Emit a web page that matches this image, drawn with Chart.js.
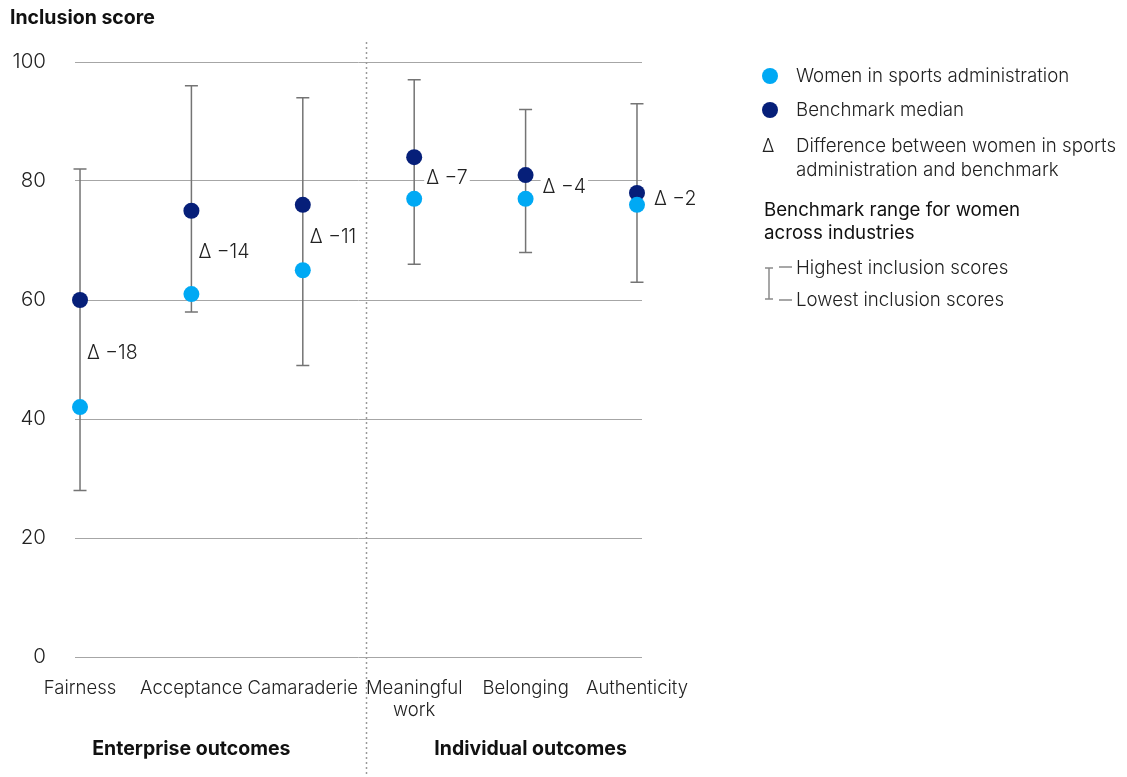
<!DOCTYPE html>
<html>
<head>
<meta charset="utf-8">
<script src="https://cdn.jsdelivr.net/npm/chart.js@4.4.1/dist/chart.umd.min.js"></script>
<style>
  body { margin: 0; background: #fff; font-family: Inter, "Liberation Sans", Arial, sans-serif; color: #222; }
  #wrap { position: relative; width: 1127px; height: 777px; overflow: hidden; }
  #chart { position: absolute; left: 0; top: 0; }
  .abs { position: absolute; white-space: nowrap; }
  .title { left: 10px; top: 5px; font-size: 19.5px; font-weight: 700; color: #111; }
  .dot { width: 16px; height: 16px; border-radius: 50%; }
  .lg { font-size: 18.7px; line-height: 24px; color: #222; font-weight: 300; }
</style>
</head>
<body>
<div id="wrap">
  <canvas id="chart" width="1127" height="777"></canvas>
  <div class="abs title">Inclusion score</div>

  <div class="abs dot" style="left:762px;top:68px;background:#00a9f4"></div>
  <div class="abs lg" style="left:796px;top:64px">Women in sports administration</div>
  <div class="abs dot" style="left:762px;top:102px;background:#061f79"></div>
  <div class="abs lg" style="left:796px;top:98px">Benchmark median</div>
  <div class="abs lg" style="left:762px;top:134px">Δ</div>
  <div class="abs lg" style="left:796px;top:134px">Difference between women in sports<br>administration and benchmark</div>
  <div class="abs lg" style="left:764px;top:198px;line-height:23px;color:#111;font-weight:400">Benchmark range for women<br>across industries</div>
  <svg class="abs" style="left:760px;top:260px" width="40" height="46">
    <g stroke="#8a8a8a" stroke-width="1.5" fill="none">
      <line x1="9" y1="8" x2="9" y2="39"/>
      <line x1="5" y1="8" x2="13" y2="8"/>
      <line x1="5" y1="39" x2="13" y2="39"/>
      <line x1="19" y1="7" x2="32" y2="7"/>
      <line x1="19" y1="40" x2="32" y2="40"/>
    </g>
  </svg>
  <div class="abs lg" style="left:796px;top:256px">Highest inclusion scores</div>
  <div class="abs lg" style="left:796px;top:288px">Lowest inclusion scores</div>
</div>

<script>
const categories = [["Fairness"], ["Acceptance"], ["Camaraderie"], ["Meaningful", "work"], ["Belonging"], ["Authenticity"]];
const womenScores = [42, 61, 65, 77, 77, 76];
const benchmarkMedian = [60, 75, 76, 84, 81, 78];
const rangeLow = [28, 58, 49, 66, 68, 63];
const rangeHigh = [82, 96, 94, 97, 92, 93];
const yTicks = [0, 20, 40, 60, 80, 100];
const groupNames = ["Enterprise outcomes", "Individual outcomes"];
const groupMembers = [[0, 1, 2], [3, 4, 5]];
const dividerAt = 2.57;

const FONT = 'Inter, "Liberation Sans", Arial, sans-serif';

// benchmark range whiskers, drawn under the dots
const rangePlugin = {
  id: "rangeBars",
  beforeDatasetsDraw(chart) {
    let ctx = chart.ctx;
    let x = chart.scales.x, y = chart.scales.y;
    ctx.save();
    ctx.strokeStyle = "#747474";
    ctx.lineWidth = 1.5;
    rangeLow.forEach(function (lo, i) {
      let px = x.getPixelForValue(i);
      let top = y.getPixelForValue(rangeHigh[i]);
      let bot = y.getPixelForValue(lo);
      ctx.beginPath();
      ctx.moveTo(px, top); ctx.lineTo(px, bot);
      ctx.moveTo(px - 6.5, top); ctx.lineTo(px + 6.5, top);
      ctx.moveTo(px - 6.5, bot); ctx.lineTo(px + 6.5, bot);
      ctx.stroke();
    });
    ctx.restore();
  },
};

// divider, group labels and delta labels
const notesPlugin = {
  id: "notes",
  afterDatasetsDraw(chart) {
    let ctx = chart.ctx;
    let x = chart.scales.x, y = chart.scales.y;
    ctx.save();
    ctx.font = "300 19.5px " + FONT;
    ctx.textBaseline = "middle";
    ctx.textAlign = "left";
    womenScores.forEach(function (w, i) {
      let d = w - benchmarkMedian[i];
      let txt = "Δ \u2212" + Math.abs(d);
      let off = Math.abs(d) >= 10 ? 7 : (Math.abs(d) >= 6 ? 12 : 17);
      let px = x.getPixelForValue(i) + off;
      let py = y.getPixelForValue((w + benchmarkMedian[i]) / 2);
      let tw = ctx.measureText(txt).width;
      ctx.fillStyle = "#fff";
      ctx.fillRect(px - 2, py - 10, tw + 4, 20);
      ctx.fillStyle = "#222";
      ctx.fillText(txt, px, py);
    });

    // dotted divider
    let dx = Math.round(x.getPixelForValue(dividerAt)) + 0.5;
    ctx.strokeStyle = "#9a9a9a";
    ctx.lineWidth = 1.5;
    ctx.setLineDash([2, 3]);
    ctx.beginPath();
    ctx.moveTo(dx, 42);
    ctx.lineTo(dx, chart.height);
    ctx.stroke();
    ctx.setLineDash([]);

    ctx.font = "700 19.5px " + FONT;
    ctx.fillStyle = "#111";
    ctx.textAlign = "center";
    groupNames.forEach(function (g, k) {
      let m = groupMembers[k];
      let cx = (x.getPixelForValue(m[0]) + x.getPixelForValue(m[m.length - 1])) / 2;
      ctx.fillText(g, cx + (k === 1 ? 5 : 0), 749);
    });
    ctx.restore();
  },
};

let ctx = document.getElementById("chart").getContext("2d");
let myChart = new Chart(ctx, {
  type: "scatter",
  data: {
    datasets: [
      {
        label: "Women in sports administration",
        data: womenScores.map((v, i) => ({ x: i, y: v })),
        backgroundColor: "#00a9f4",
        pointRadius: 8,
        borderWidth: 0,
        clip: false,
      },
      {
        label: "Benchmark median",
        data: benchmarkMedian.map((v, i) => ({ x: i, y: v })),
        backgroundColor: "#061f79",
        pointRadius: 8,
        borderWidth: 0,
        clip: false,
      },
    ],
  },
  options: {
    responsive: false,
    animation: false,
    events: [],
    layout: { padding: { top: 62, right: 485, bottom: 0, left: 0 } },
    plugins: { legend: { display: false }, tooltip: { enabled: false } },
    scales: {
      x: {
        type: "linear",
        min: -0.045,
        max: 5.045,
        afterBuildTicks: function (s) {
          s.ticks = categories.map((c, i) => ({ value: i }));
        },
        afterFit: function (s) { s.height = 120; },
        ticks: {
          callback: (v) => categories[v],
          autoSkip: false,
          maxRotation: 0,
          padding: 12,
          color: "#222",
          font: { family: FONT, size: 18.5, weight: 300, lineHeight: 1.2 },
        },
        grid: { display: false },
        border: { display: false },
      },
      y: {
        min: 0,
        max: 100,
        afterBuildTicks: function (s) {
          s.ticks = yTicks.map((v) => ({ value: v }));
        },
        afterFit: function (s) { s.width = 75; },
        ticks: {
          padding: 29,
          color: "#222",
          font: { family: FONT, size: 20.5, weight: 300 },
        },
        grid: { color: "#a6a6a6", lineWidth: 1, drawTicks: false },
        border: { display: false },
      },
    },
  },
  plugins: [rangePlugin, notesPlugin],
});
</script>
</body>
</html>
